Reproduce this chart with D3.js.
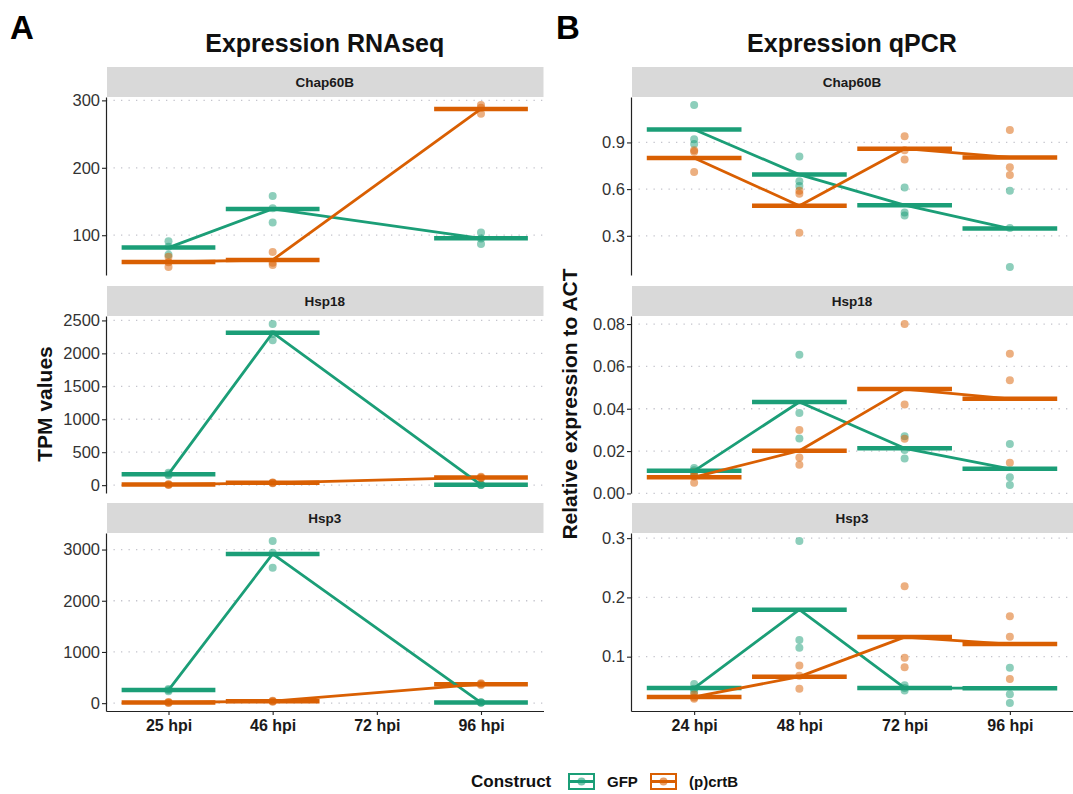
<!DOCTYPE html>
<html>
<head>
<meta charset="utf-8">
<script src="https://cdn.jsdelivr.net/npm/d3@7"></script>
<style>
  body { margin: 0; background: #fff; }
  svg { display: block; }
  text { font-family: "Liberation Sans", Arial, Helvetica, sans-serif; }
</style>
</head>
<body>
<svg id="chart" width="1073" height="794"></svg>
<script>
// ---- categories ----
const genes = ["Chap60B", "Hsp18", "Hsp3"];
const constructs = ["GFP", "(p)crtB"];
const constructColors = ["#1B9E77", "#D95F02"];
const rnaTimes = ["25 hpi", "46 hpi", "72 hpi", "96 hpi"];
const qpcrTimes = ["24 hpi", "48 hpi", "72 hpi", "96 hpi"];

// ---- RNAseq replicates (TPM), one list per time point; 72 hpi not sampled ----
const rnaChap60B_GFP  = [[91, 83, 71], [158, 140, 119], [], [104, 95, 87]];
const rnaChap60B_crtB = [[68, 60, 53], [75, 59, 56], [], [293, 289, 280]];
const rnaHsp18_GFP    = [[190, 162, 150], [2445, 2295, 2200], [], [3, 5, 8]];
const rnaHsp18_crtB   = [[4, 9, 15], [28, 35, 42], [], [105, 118, 128]];
const rnaHsp3_GFP     = [[235, 255, 275], [3165, 2935, 2645], [], [8, 12, 18]];
const rnaHsp3_crtB    = [[5, 12, 22], [30, 38, 48], [], [355, 372, 388]];

// ---- qPCR replicates (relative expression to ACT) ----
const qpcrChap60B_GFP  = [[1.14, 0.92, 0.89], [0.81, 0.65, 0.62], [0.61, 0.45, 0.43], [0.59, 0.35, 0.10]];
const qpcrChap60B_crtB = [[0.85, 0.84, 0.71], [0.59, 0.57, 0.32], [0.94, 0.85, 0.79], [0.98, 0.74, 0.69]];
const qpcrHsp18_GFP    = [[0.012, 0.011, 0.009], [0.0655, 0.038, 0.026], [0.027, 0.0205, 0.0165], [0.0233, 0.0076, 0.0040]];
const qpcrHsp18_crtB   = [[0.010, 0.008, 0.005], [0.030, 0.017, 0.0135], [0.080, 0.042, 0.0258], [0.066, 0.0535, 0.0145]];
const qpcrHsp3_GFP     = [[0.054, 0.046, 0.041], [0.295, 0.128, 0.115], [0.052, 0.047, 0.043], [0.0815, 0.0368, 0.022]];
const qpcrHsp3_crtB    = [[0.036, 0.031, 0.029], [0.085, 0.068, 0.046], [0.219, 0.098, 0.082], [0.168, 0.1335, 0.0625]];

// ---- tick labels ----
const rnaTicksChap60B = [100, 200, 300];
const rnaTicksHsp18 = [0, 500, 1000, 1500, 2000, 2500];
const rnaTicksHsp3 = [0, 1000, 2000, 3000];
const qpcrTicksChap60B = [0.3, 0.6, 0.9];
const qpcrTicksHsp18 = [0, 0.02, 0.04, 0.06, 0.08];
const qpcrTicksHsp3 = [0.1, 0.2, 0.3];

// tables built from the arrays above: [gene][construct][time][replicate]
const rnaValues = [
  [rnaChap60B_GFP, rnaChap60B_crtB],
  [rnaHsp18_GFP, rnaHsp18_crtB],
  [rnaHsp3_GFP, rnaHsp3_crtB]
];
const qpcrValues = [
  [qpcrChap60B_GFP, qpcrChap60B_crtB],
  [qpcrHsp18_GFP, qpcrHsp18_crtB],
  [qpcrHsp3_GFP, qpcrHsp3_crtB]
];

const FONT = '"Liberation Sans", Arial, Helvetica, sans-serif';
const svg = d3.select("#chart");

const columns = [
  { x0: 106, x1: 543.5, times: rnaTimes, values: rnaValues,
    ticks: [rnaTicksChap60B, rnaTicksHsp18, rnaTicksHsp3],
    formats: [d3.format("d"), d3.format("d"), d3.format("d")],
    title: "Expression RNAseq", tag: "A", tagX: 10,
    ylab: "TPM values", ylabX: 52 },
  { x0: 631, x1: 1073, times: qpcrTimes, values: qpcrValues,
    ticks: [qpcrTicksChap60B, qpcrTicksHsp18, qpcrTicksHsp3],
    formats: [d3.format(".1f"), d3.format(".2f"), d3.format(".1f")],
    title: "Expression qPCR", tag: "B", tagX: 556,
    ylab: "Relative expression to ACT", ylabX: 577 }
];

// facet rows: strip top, panel top, panel bottom
const rows = [
  { s0: 67, p0: 97, p1: 275 },
  { s0: 286, p0: 316, p1: 493 },
  { s0: 503, p0: 533, p1: 711 }
];

columns.forEach(col => {
  // panel tag and title
  svg.append("text").attr("x", col.tagX).attr("y", 39)
    .attr("font-size", 33).attr("font-weight", "bold").attr("fill", "#000")
    .text(col.tag);
  svg.append("text").attr("x", (col.x0 + col.x1) / 2).attr("y", 52)
    .attr("text-anchor", "middle").attr("font-size", 25).attr("font-weight", "bold")
    .attr("fill", "#111").text(col.title);
  // y axis title
  svg.append("text")
    .attr("transform", `translate(${col.ylabX},${(rows[0].p0 + rows[2].p1) / 2}) rotate(-90)`)
    .attr("text-anchor", "middle").attr("font-size", 21).attr("font-weight", "bold")
    .attr("fill", "#111").text(col.ylab);

  const x = d3.scalePoint().domain(col.times).range([col.x0, col.x1]).padding(0.6);
  const half = x.step() * 0.45;

  rows.forEach((row, r) => {
    const g = svg.append("g");
    const all = col.values[r].flat(2);
    const ext = d3.extent(all);
    const pad = (ext[1] - ext[0]) * 0.05;
    const y = d3.scaleLinear().domain([ext[0] - pad, ext[1] + pad]).range([row.p1, row.p0]);

    // dotted major grid
    g.append("g").selectAll("line").data(col.ticks[r]).join("line")
      .attr("x1", col.x0).attr("x2", col.x1)
      .attr("y1", d => y(d)).attr("y2", d => y(d))
      .attr("stroke", "#c4c4cc").attr("stroke-width", 1.3)
      .attr("stroke-dasharray", "1.3 6.2");

    // facet strip
    g.append("rect").attr("x", col.x0 + 1).attr("y", row.s0)
      .attr("width", col.x1 - col.x0 - 1).attr("height", row.p0 - row.s0)
      .attr("fill", "#d9d9d9");
    g.append("text").attr("x", (col.x0 + col.x1) / 2).attr("y", (row.s0 + row.p0) / 2)
      .attr("dy", "0.35em").attr("text-anchor", "middle")
      .attr("font-size", 13.5).attr("font-weight", "bold").attr("fill", "#1a1a1a")
      .text(genes[r]);

    // replicate points
    col.values[r].forEach((series, k) => {
      const pts = series.flatMap((vals, i) => vals.map(v => ({ t: col.times[i], v })));
      g.append("g").selectAll("circle").data(pts).join("circle")
        .attr("cx", d => x(d.t)).attr("cy", d => y(d.v)).attr("r", 4)
        .attr("fill", constructColors[k]).attr("fill-opacity", 0.5);
    });

    // means per time point
    const means = col.values[r].map(series =>
      series.map((vals, i) => ({ t: col.times[i], m: vals.length ? d3.mean(vals) : null }))
            .filter(d => d.m !== null));

    // crossbars at the mean
    means.forEach((ms, k) => {
      g.append("g").selectAll("line").data(ms).join("line")
        .attr("x1", d => x(d.t) - half).attr("x2", d => x(d.t) + half)
        .attr("y1", d => y(d.m)).attr("y2", d => y(d.m))
        .attr("stroke", constructColors[k]).attr("stroke-width", 4.5);
    });

    // lines joining the means
    const line = d3.line().x(d => x(d.t)).y(d => y(d.m));
    means.forEach((ms, k) => {
      g.append("path").datum(ms).attr("d", line)
        .attr("fill", "none").attr("stroke", constructColors[k]).attr("stroke-width", 2.8)
        .attr("stroke-linejoin", "round");
    });

    // y axis
    const ya = g.append("g").attr("transform", `translate(${col.x0},0)`)
      .call(d3.axisLeft(y).tickValues(col.ticks[r]).tickFormat(col.formats[r])
        .tickSize(4).tickPadding(2).tickSizeOuter(0));
    ya.attr("font-family", FONT).attr("font-size", 16.5);
    ya.select(".domain").attr("stroke", "#222").attr("stroke-width", 1.2);
    ya.selectAll(".tick line").attr("stroke", "#222").attr("stroke-width", 1.1);
    ya.selectAll(".tick text").attr("fill", "#333");

    // x axis on the bottom row only
    if (r === rows.length - 1) {
      const xa = g.append("g").attr("transform", `translate(0,${row.p1})`)
        .call(d3.axisBottom(x).tickSize(4).tickPadding(5).tickSizeOuter(0));
      xa.attr("font-family", FONT).attr("font-size", 16).attr("font-weight", "bold");
      xa.select(".domain").attr("stroke", "#222").attr("stroke-width", 1.2);
      xa.selectAll(".tick line").attr("stroke", "#222").attr("stroke-width", 1.1);
      xa.selectAll(".tick text").attr("fill", "#1a1a1a");
    }
  });
});

// ---- legend ----
const legendY = 781.5;
const legend = svg.append("g");
legend.append("text").attr("x", 471).attr("y", legendY).attr("dy", "0.35em")
  .attr("font-size", 17).attr("font-weight", "bold").attr("fill", "#111").text("Construct");
const keyX = [568, 650];
const labelX = [607, 689];
constructs.forEach((c, k) => {
  const kx = keyX[k], kw = 27, kh = 17, ky = legendY - kh / 2;
  legend.append("rect").attr("x", kx + 1).attr("y", ky + 1)
    .attr("width", kw - 2).attr("height", kh - 2)
    .attr("fill", "#fff").attr("stroke", constructColors[k]).attr("stroke-width", 2);
  legend.append("line").attr("x1", kx + 1).attr("x2", kx + kw - 1)
    .attr("y1", legendY).attr("y2", legendY)
    .attr("stroke", constructColors[k]).attr("stroke-width", 3);
  legend.append("circle").attr("cx", kx + kw / 2).attr("cy", legendY).attr("r", 4)
    .attr("fill", constructColors[k]).attr("fill-opacity", 0.6);
  legend.append("text").attr("x", labelX[k]).attr("y", legendY).attr("dy", "0.35em")
    .attr("font-size", 15).attr("font-weight", "bold").attr("fill", "#111").text(c);
});
</script>
</body>
</html>
